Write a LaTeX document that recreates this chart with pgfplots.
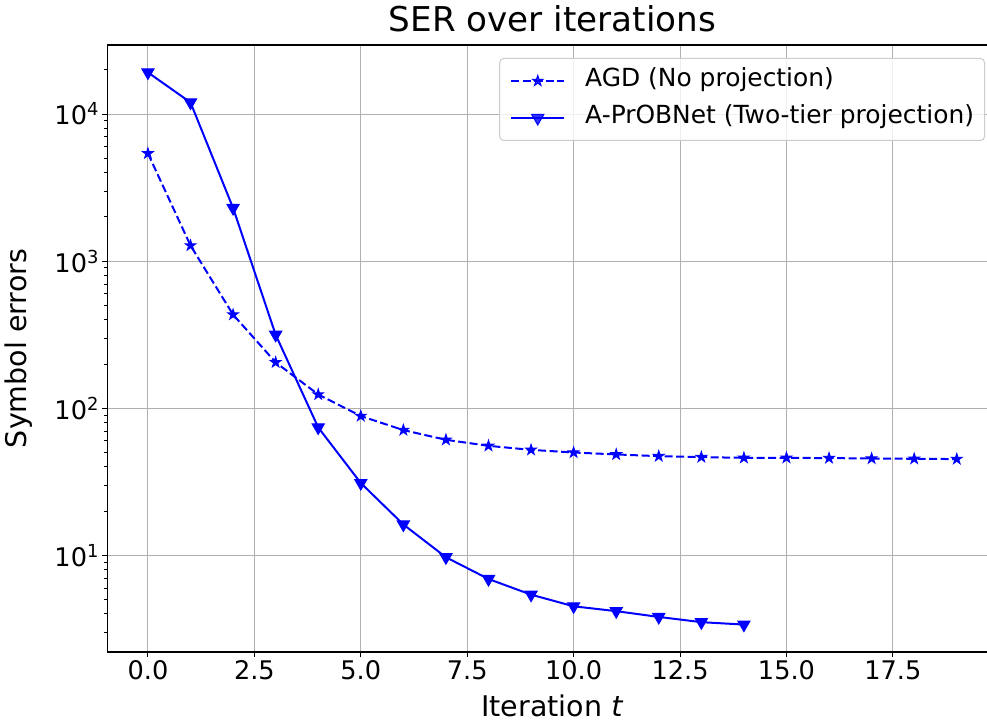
\documentclass[border=0pt]{standalone}
\usepackage{fontspec}
\setmainfont{DejaVu Sans}
\usepackage{pgfplots}
\pgfplotsset{compat=1.18}

% filled five-pointed star, like matplotlib's '*'
\pgfdeclareplotmark{fstar}{%
  \pgfpathmoveto{\pgfpointpolar{90}{\pgfplotmarksize}}%
  \pgfpathlineto{\pgfpointpolar{126}{0.382\pgfplotmarksize}}%
  \pgfpathlineto{\pgfpointpolar{162}{\pgfplotmarksize}}%
  \pgfpathlineto{\pgfpointpolar{198}{0.382\pgfplotmarksize}}%
  \pgfpathlineto{\pgfpointpolar{234}{\pgfplotmarksize}}%
  \pgfpathlineto{\pgfpointpolar{270}{0.382\pgfplotmarksize}}%
  \pgfpathlineto{\pgfpointpolar{306}{\pgfplotmarksize}}%
  \pgfpathlineto{\pgfpointpolar{342}{0.382\pgfplotmarksize}}%
  \pgfpathlineto{\pgfpointpolar{18}{\pgfplotmarksize}}%
  \pgfpathlineto{\pgfpointpolar{54}{0.382\pgfplotmarksize}}%
  \pgfpathclose
  \pgfusepathqfillstroke
}

\definecolor{gridgray}{RGB}{176,176,176}
\definecolor{legedge}{RGB}{204,204,204}

\pgfplotstableread{
t   err
0   5400
1   1277
2   433
3   205
4   124
5   88.5
6   71
7   61
8   55.5
9   52.1
10  50
11  48.5
12  47.2
13  46.5
14  46
15  46
16  45.8
17  45.5
18  45.3
19  45.1
}\agd

\pgfplotstableread{
t   err
0   19200
1   12000
2   2300
3   316
4   74
5   31
6   16.2
7   9.7
8   6.9
9   5.4
10  4.5
11  4.17
12  3.81
13  3.51
14  3.38
}\probnet

\begin{document}
\begin{tikzpicture}
\useasboundingbox (-107.5bp,-69bp) rectangle (879.5bp,652bp);
\begin{axis}[
    at={(0,0)}, anchor=south west,
    scale only axis,
    width=889.7bp, height=607bp,
    ymode=log,
    xmin=-0.95, xmax=19.95,
    ymin=2.2, ymax=29500,
    xtick={0,2.5,5,7.5,10,12.5,15,17.5},
    xticklabels={0.0,2.5,5.0,7.5,10.0,12.5,15.0,17.5},
    ytick={10,100,1000,10000},
    yticklabels={10\textsuperscript{1},10\textsuperscript{2},10\textsuperscript{3},10\textsuperscript{4}},
    minor ytick={3,4,5,6,7,8,9,20,30,40,50,60,70,80,90,200,300,400,500,600,700,800,900,2000,3000,4000,5000,6000,7000,8000,9000,20000},
    grid=major,
    major grid style={gridgray, line width=1bp},
    axis line style={line width=1.1bp},
    tick align=outside,
    major tick length=5bp,
    minor tick length=3bp,
    every tick/.style={black, line width=1.1bp},
    minor tick style={line width=0.8bp},
    xtick pos=bottom, ytick pos=left,
    tick label style={font=\fontsize{25.7}{30}\selectfont},
    title={SER over iterations},
    title style={font=\fontsize{34.3}{40}\selectfont, at={(0.5,1)}, anchor=base, yshift=8bp},
    xlabel={Iteration \textit{t}},
    xlabel style={font=\fontsize{28.6}{33}\selectfont, at={(0.5,0)}, anchor=base, yshift=-64bp},
    ylabel={Symbol errors},
    every axis y label/.style={at={(0,0.5)}, xshift=-88.5bp, rotate=90, anchor=center, font=\fontsize{28.6}{33}\selectfont},
    legend cell align=left,
    legend image code/.code={
        \draw[mark repeat=2, mark phase=2, #1] plot coordinates {(0bp,0bp) (26.5bp,0bp) (53bp,0bp)};
    },
    legend style={
        at={(0.9863,0.9786)}, anchor=north east,
        draw=legedge, line width=1bp, rounded corners=4bp,
        fill=white, fill opacity=0.8, draw opacity=1, text opacity=1,
        font=\fontsize{25}{30}\selectfont,
        inner xsep=10.5bp, inner ysep=4bp,
        nodes={inner xsep=0bp, inner ysep=5.5bp, text height=19bp, text depth=7bp},
        /tikz/every odd column/.append style={column sep=20bp},
    },
]
\addplot[blue, line width=2bp, dash pattern=on 8bp off 3.5bp,
    mark=fstar, mark size=5.5bp, mark options={solid, fill=blue, line width=1bp}]
    table[x=t, y=err] {\agd};
\addlegendentry{AGD (No projection)}

\addplot[blue, line width=2bp,
    mark=triangle*, mark size=7bp, mark options={solid, fill=blue, line width=1bp, rotate=180}]
    table[x=t, y=err] {\probnet};
\addlegendentry{A-PrOBNet (Two-tier projection)}
\end{axis}
\end{tikzpicture}
\end{document}
